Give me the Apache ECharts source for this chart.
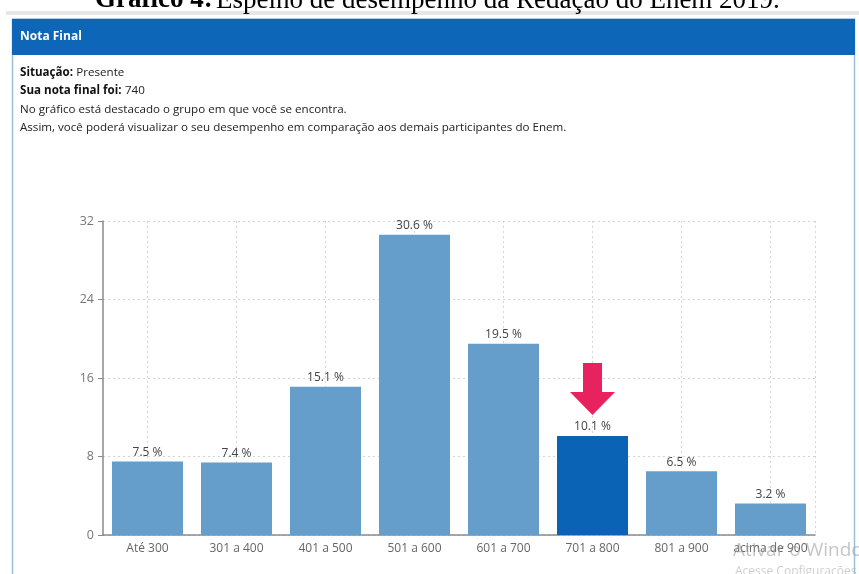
<!DOCTYPE html>
<html>
<head>
<meta charset="utf-8">
<script src="https://cdn.jsdelivr.net/npm/echarts@6/dist/echarts.min.js"></script>
<style>
  html, body { margin: 0; padding: 0; background: #fff; }
  #chart { width: 859px; height: 574px; }
</style>
</head>
<body>
<div id="chart"></div>
<script>
// Score bands and the share of participants in each (%)
const categories = ['Até 300', '301 a 400', '401 a 500', '501 a 600', '601 a 700', '701 a 800', '801 a 900', 'acima de 900'];
const shares = [7.5, 7.4, 15.1, 30.6, 19.5, 10.1, 6.5, 3.2];
const userBand = '701 a 800';
const yTicks = { min: 0, max: 32, interval: 8 };

// Half-band slots used only to place the dotted vertical guides at band centres
const guideSlots = Array.from({ length: categories.length * 2 + 1 }, (_, i) => String(i));

const BAR = '#659ecb';
const BAR_ACTIVE = '#0a63b4';
const HEADER = '#0d66b7';
const BORDER = '#9cc0e0';
const SANS = "'Open Sans', sans-serif";
const SERIF = "'Liberation Serif', serif";

const chart = echarts.init(document.getElementById('chart'), null, { renderer: 'canvas' });

chart.setOption({
  animation: false,
  backgroundColor: '#fff',
  graphic: [
    {
      type: 'text', x: 95, y: -13, z: 10,
      style: {
        rich: {
          b: { fontFamily: SERIF, fontWeight: 'bold', fontSize: 27, fill: '#000' },
          r: { fontFamily: SERIF, fontSize: 27, fill: '#000' }
        },
        text: '{b|Gráfico 4:} {r|Espelho de desempenho da Redação do Enem 2019.}'
      }
    },
    { type: 'rect', shape: { x: 6, y: 11, width: 853, height: 4 }, style: { fill: '#e6e6e6' } },
    { type: 'rect', shape: { x: 12.5, y: 19, width: 842, height: 560 }, style: { fill: '#fff', stroke: BORDER, lineWidth: 1.5 }, z: -1 },
    { type: 'rect', shape: { x: 12, y: 19, width: 843, height: 36 }, style: { fill: HEADER } },
    { type: 'text', x: 20, y: 37, style: { text: 'Nota Final', fill: '#fff', font: "bold 12px " + SANS, verticalAlign: 'middle' } },
    {
      type: 'text', x: 20, y: 73,
      style: {
        verticalAlign: 'middle',
        rich: {
          b: { fontFamily: SANS, fontWeight: 'bold', fontSize: 11.6, fill: '#111' },
          r: { fontFamily: SANS, fontSize: 11.6, fill: '#222' }
        },
        text: '{b|Situação:} {r|Presente}'
      }
    },
    {
      type: 'text', x: 20, y: 91,
      style: {
        verticalAlign: 'middle',
        rich: {
          b: { fontFamily: SANS, fontWeight: 'bold', fontSize: 11.6, fill: '#111' },
          r: { fontFamily: SANS, fontSize: 11.6, fill: '#222' }
        },
        text: '{b|Sua nota final foi:} {r|740}'
      }
    },
    { type: 'text', x: 20, y: 110, style: { text: 'No gráfico está destacado o grupo em que você se encontra.', fill: '#222', font: '11.6px ' + SANS, verticalAlign: 'middle' } },
    { type: 'text', x: 20, y: 128, style: { text: 'Assim, você poderá visualizar o seu desempenho em comparação aos demais participantes do Enem.', fill: '#222', font: '11.6px ' + SANS, verticalAlign: 'middle' } },
    { type: 'text', x: 733, y: 551, z: 100, style: { text: 'Ativar o Windows', fill: 'rgba(150,150,150,0.55)', font: "19px 'Open Sans', sans-serif", verticalAlign: 'middle' } },
    { type: 'text', x: 735, y: 572, z: 100, style: { text: 'Acesse Configurações para ativar o Windows.', fill: 'rgba(160,160,160,0.5)', font: "12px 'Open Sans', sans-serif", verticalAlign: 'middle' } }
  ],
  grid: { left: 103, right: 44, top: 221, bottom: 39, containLabel: false },
  xAxis: [
    {
      type: 'category',
      data: categories,
      boundaryGap: true,
      axisLine: { lineStyle: { color: '#8a8a8a', width: 1.5 } },
      axisTick: { alignWithLabel: true, length: 5, lineStyle: { color: '#8a8a8a' } },
      axisLabel: { interval: 0, color: '#666', fontFamily: SANS, fontSize: 12, margin: 8 },
      splitLine: { show: false }
    },
    {
      type: 'category',
      data: guideSlots,
      boundaryGap: false,
      position: 'bottom',
      axisLine: { show: false },
      axisTick: { show: false },
      axisLabel: { show: false },
      splitLine: {
        show: true,
        interval: (i) => i % 2 === 1 || i === guideSlots.length - 1,
        lineStyle: { color: '#d4d4d4', type: [2, 3], width: 1 }
      }
    }
  ],
  yAxis: {
    type: 'value',
    min: yTicks.min, max: yTicks.max, interval: yTicks.interval,
    axisLine: { show: true, lineStyle: { color: '#8a8a8a', width: 1.5 } },
    axisTick: { show: true, length: 5, lineStyle: { color: '#8a8a8a' } },
    axisLabel: { color: '#777', fontFamily: SANS, fontSize: 12.5, margin: 9 },
    splitLine: { show: true, lineStyle: { color: '#d4d4d4', type: [2, 3], width: 1 } }
  },
  series: [{
    type: 'bar',
    xAxisIndex: 0,
    barWidth: 71,
    data: shares.map((v, i) => ({
      value: v,
      itemStyle: { color: categories[i] === userBand ? BAR_ACTIVE : BAR }
    })),
    label: {
      show: true,
      position: 'top',
      distance: 3,
      color: '#444',
      fontFamily: SANS,
      fontSize: 12,
      formatter: (p) => p.value.toFixed(1) + ' %'
    },
    markPoint: {
      silent: true,
      symbol: 'path://M13,0 L32,0 L32,29 L45,29 L22.5,52 L0,29 L13,29 Z',
      symbolSize: [45, 52],
      symbolOffset: [0, -47],
      itemStyle: { color: '#e8215f' },
      label: { show: false },
      data: [{ coord: [userBand, shares[categories.indexOf(userBand)]] }]
    }
  }]
});
</script>
</body>
</html>
